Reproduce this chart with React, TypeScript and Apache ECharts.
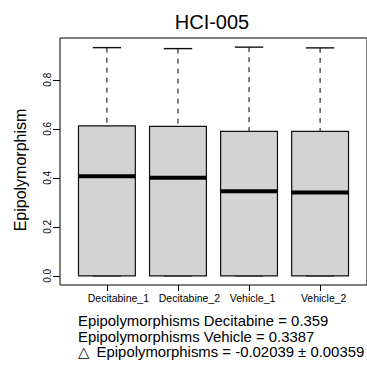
import React, { useEffect, useRef } from "react";
import * as echarts from "echarts";

const categories = ["Decitabine_1", "Decitabine_2", "Vehicle_1", "Vehicle_2"];
const whiskerLow = [0, 0, 0, 0];
const q1 = [0, 0, 0, 0];
const medians = [0.406, 0.4, 0.345, 0.34];
const q3 = [0.612, 0.61, 0.589, 0.589];
const whiskerHigh = [0.931, 0.927, 0.933, 0.93];
const yTicks = [0, 0.2, 0.4, 0.6, 0.8];
const titleText = "HCI-005";
const yAxisTitle = "Epipolymorphism";
const noteLines = [
  "{t|Epipolymorphisms Decitabine = 0.359}",
  "{t|Epipolymorphisms Vehicle = 0.3387}",
  "{tri|\u25B3}{t| Epipolymorphisms = -0.02039 \u00B1 0.00359}",
];

const FONT = "'Liberation Sans', Arial, sans-serif";

export default function App() {
  const ref = useRef<HTMLDivElement>(null);
  useEffect(() => {
    if (!ref.current) return;
    const chart = echarts.init(ref.current, null, { renderer: "svg" });
    const dataMax = Math.max(...whiskerHigh);
    const dataMin = Math.min(...whiskerLow);
    const range = dataMax - dataMin;
    const yMin = dataMin - 0.04 * range;
    const yMax = dataMax + 0.04 * range;
    const n = categories.length;
    const xMin = 0.5 - 0.04 * n;
    const xMax = n + 0.5 + 0.04 * n;
    const labelShift = 0.27;

    const data = categories.map((c, i) => [
      i + 1,
      whiskerLow[i],
      q1[i],
      medians[i],
      q3[i],
      whiskerHigh[i],
    ]);

    const option: any = {
      animation: false,
      grid: {
        left: 60,
        top: 38,
        width: 317,
        height: 247,
        show: true,
        borderColor: "#000",
        borderWidth: 1,
        backgroundColor: "transparent",
      },
      xAxis: {
        type: "value",
        min: xMin,
        max: xMax,
        axisLine: { show: false, onZero: false },
        splitLine: { show: false },
        axisTick: {
          show: true,
          customValues: categories.map((c, i) => i + 1),
          length: 6,
          lineStyle: { color: "#000", width: 1 },
        },
        axisLabel: {
          customValues: categories.map((c, i) => i + 1 - labelShift),
          formatter: (v: number) => categories[Math.round(v + labelShift) - 1] ?? "",
          align: "left",
          margin: 7,
          fontSize: 10.5,
          color: "#000",
          fontFamily: FONT,
        },
      },
      yAxis: {
        type: "value",
        min: yMin,
        max: yMax,
        axisLine: { show: false, onZero: false },
        splitLine: { show: false },
        axisTick: {
          show: true,
          customValues: yTicks,
          length: 7,
          lineStyle: { color: "#000", width: 1 },
        },
        axisLabel: {
          customValues: yTicks,
          formatter: (v: number) => v.toFixed(1),
          rotate: 90,
          margin: 8,
          fontSize: 10,
          color: "#000",
          fontFamily: FONT,
        },
      },
      series: [
        {
          type: "custom",
          data,
          encode: { x: 0, y: [1, 2, 3, 4, 5] },
          renderItem: (params: any, api: any) => {
            const x = api.value(0);
            const lo = api.value(1);
            const b1 = api.value(2);
            const md = api.value(3);
            const b3 = api.value(4);
            const hi = api.value(5);
            const boxW = api.size([0.8, 0])[0];
            const capW = api.size([0.4, 0])[0];
            const pLo = api.coord([x, lo]);
            const pQ1 = api.coord([x, b1]);
            const pMd = api.coord([x, md]);
            const pQ3 = api.coord([x, b3]);
            const pHi = api.coord([x, hi]);
            const cx = pLo[0];
            return {
              type: "group",
              children: [
                {
                  type: "line",
                  shape: { x1: cx, y1: pHi[1], x2: cx, y2: pQ3[1] },
                  style: { stroke: "#000", lineWidth: 1, lineDash: [5, 5] },
                },
                {
                  type: "line",
                  shape: { x1: cx, y1: pLo[1], x2: cx, y2: pQ1[1] },
                  style: { stroke: "#000", lineWidth: 1, lineDash: [5, 5] },
                },
                {
                  type: "line",
                  shape: { x1: cx - capW / 2, y1: pHi[1], x2: cx + capW / 2, y2: pHi[1] },
                  style: { stroke: "#111", lineWidth: 1.4 },
                },
                {
                  type: "line",
                  shape: { x1: cx - capW / 2, y1: pLo[1], x2: cx + capW / 2, y2: pLo[1] },
                  style: { stroke: "#111", lineWidth: 1.4 },
                },
                {
                  type: "rect",
                  shape: {
                    x: cx - boxW / 2,
                    y: pQ3[1],
                    width: boxW,
                    height: pQ1[1] - pQ3[1],
                  },
                  style: { fill: "#d3d3d3", stroke: "#111", lineWidth: 1.2 },
                },
                {
                  type: "line",
                  shape: { x1: cx - boxW / 2, y1: pMd[1], x2: cx + boxW / 2, y2: pMd[1] },
                  style: { stroke: "#000", lineWidth: 4 },
                },
              ],
            };
          },
        },
      ],
      graphic: [
        {
          type: "text",
          x: 212,
          y: 21.5,
          style: {
            text: titleText,
            font: `20px ${FONT}`,
            fill: "#000",
            textAlign: "center",
            textVerticalAlign: "middle",
          },
        },
        {
          type: "text",
          x: 20,
          y: 170,
          rotation: Math.PI / 2,
          style: {
            text: yAxisTitle,
            font: `16px ${FONT}`,
            fill: "#000",
            textAlign: "center",
            textVerticalAlign: "middle",
          },
        },
        {
          type: "text",
          x: 78,
          y: 313.6,
          style: {
            text: noteLines.join("\n"),
            fontSize: 14.9,
            fontFamily: FONT,
            fill: "#000",
            textAlign: "left",
            textVerticalAlign: "top",
            lineHeight: 15.4,
            rich: {
              tri: {
                fontSize: 14.9,
                lineHeight: 15.4,
                fontFamily: "'DejaVu Sans', sans-serif",
                fill: "#000",
                padding: [0, 3, 0, 0],
              },
              t: {
                fontSize: 14.9,
                lineHeight: 15.4,
                fontFamily: FONT,
                fill: "#000",
              },
            },
          },
        },
      ],
    };
    chart.setOption(option);
    return () => chart.dispose();
  }, []);
  return (
    <div
      ref={ref}
      style={{ position: "fixed", left: 0, top: 0, width: 367, height: 379, background: "#fff" }}
    />
  );
}
